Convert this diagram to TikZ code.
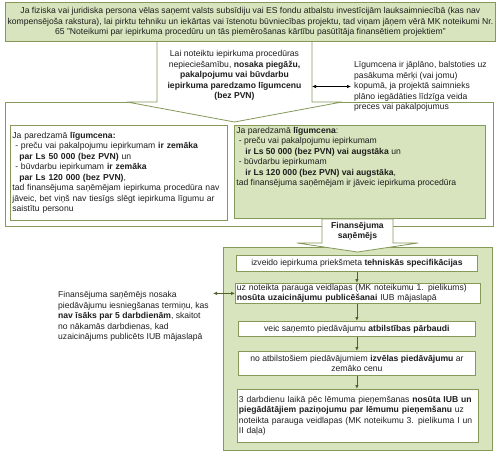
\documentclass[tikz,border=0pt]{standalone}
\usepackage{fontspec}
\setmainfont{Liberation Sans}
\usetikzlibrary{arrows.meta}
\definecolor{gfill}{HTML}{D7E4BD}
\definecolor{bd}{HTML}{86995A}
\definecolor{ar}{HTML}{4F6228}
\definecolor{txt}{HTML}{1E1E1E}
\tikzset{
  base/.style={font=\fontsize{8.6bp}{10.5bp}\selectfont, text=txt, inner sep=0pt},
  gbox/.style={base, draw=bd, fill=gfill, line width=0.8bp},
  wbox/.style={base, draw=bd, fill=white, line width=0.8bp},
  shp/.style={draw=bd, line width=0.8bp},
  darr/.style={{Latex[length=4bp,width=3.5bp]}-{Latex[length=4bp,width=3.5bp]}, line width=0.7bp},
  arr/.style={-{Latex[length=4bp,width=3.5bp]}, draw=ar, line width=0.8bp},
}
\begin{document}
\begin{tikzpicture}[x=1bp,y=-1bp]
\useasboundingbox (0,0) rectangle (500,454);
% upper frame
\draw[shp] (5,102) rectangle (493,226);
% top callout
\draw[shp, fill=white] (157,41) -- (157,102) -- (127,102) -- (234.5,122) -- (342,102) -- (312,102) -- (312,41);
% top box
\node[gbox, anchor=north west, minimum width=490bp, minimum height=39bp, align=center] (top) at (5,2)
 {Ja fiziska vai juridiska persona vēlas saņemt valsts subsīdiju vai ES fondu atbalstu investīcijām lauksaimniecībā (kas nav\\
  kompensējoša rakstura), lai pirktu tehniku un iekārtas vai īstenotu būvniecības projektu, tad viņam jāņem vērā MK noteikumi Nr.\\
  65 "Noteikumi par iepirkuma procedūru un tās piemērošanas kārtību pasūtītāja finansētiem projektiem"};
\node[base, align=center] (c) at (234.5,75.5)
 {Lai noteiktu iepirkuma procedūras\\
  nepieciešamību, \textbf{nosaka piegāžu,}\\
  \textbf{pakalpojumu vai būvdarbu}\\
  \textbf{iepirkuma paredzamo līgumcenu}\\
  \textbf{(bez PVN)}};
\node[base, anchor=west, align=left] (r) at (354,86.5)
 {Līgumcena ir jāplāno, balstoties uz\\
  pasākuma mērķi (vai jomu)\\
  kopumā, ja projektā saimnieks\\
  plāno iegādāties līdzīga veida\\
  preces vai pakalpojumus};
\draw[darr] (312,0 |- r.west) -- ([xshift=-3bp]r.west);
% left white box
\node[wbox, anchor=north west, minimum height=95bp, text width=213bp, inner xsep=2bp, align=left] (L) at (10,125)
 {Ja paredzamā \textbf{līgumcena:}\\
  \ - preču vai pakalpojumu iepirkumam \textbf{ir zemāka}\\
  \hspace*{7bp}\textbf{par Ls 50 000 (bez PVN)} un\\
  \ - būvdarbu iepirkumam \textbf{ir zemāka}\\
  \hspace*{7bp}\textbf{par Ls 120 000 (bez PVN)},\\
  tad finansējuma saņēmējam iepirkuma procedūra nav\\
  jāveic, bet viņš nav tiesīgs slēgt iepirkuma līgumu ar\\
  saistītu personu};
% right green box
\node[gbox, anchor=north west, inner xsep=2bp, inner ysep=1.5bp] (G) at (234,125)
 {\parbox[t][90bp][t]{247bp}{\raggedright
  Ja paredzamā \textbf{līgumcena}:\\
  \ - preču vai pakalpojumu iepirkumam\\
  \hspace*{9bp}\textbf{ir Ls 50 000 (bez PVN) vai augstāka} un\\
  \ - būvdarbu iepirkumam\\
  \hspace*{9bp}\textbf{ir Ls 120 000 (bez PVN) vai augstāka},\\
  tad finansējuma saņēmējam ir jāveic iepirkuma procedūra}};
% bottom frame
\draw[shp, fill=gfill] (223,247) rectangle (492,450);
% second callout
\draw[shp, fill=white] (322,219) -- (322,243) -- (297,243) -- (357.5,252) -- (418,243) -- (393,243) -- (393,219) -- cycle;
\node[base, align=center] (f) at (357.5,231.5) {\textbf{Finansējuma}\\\textbf{saņēmējs}};
% inner boxes
\node[wbox, anchor=north west, minimum width=241bp, minimum height=16bp, align=center] (b1) at (236,255)
 {izveido iepirkuma priekšmeta \textbf{tehniskās specifikācijas}};
\node[wbox, anchor=north west, minimum height=20bp, text width=242bp, inner xsep=1.5bp, align=left] (b2) at (235,283)
 {uz noteikta parauga veidlapas (MK noteikumu 1. pielikums)\\
  \textbf{nosūta uzaicinājumu publicēšanai} IUB mājaslapā};
\node[wbox, anchor=north west, minimum width=237bp, minimum height=15bp, align=center] (b3) at (238,321)
 {veic saņemto piedāvājumu \textbf{atbilstības pārbaudi}};
\node[wbox, anchor=north west, minimum width=237bp, minimum height=24bp, align=center] (b4) at (238,351)
 {no atbilstošiem piedāvājumiem \textbf{izvēlas piedāvājumu} ar\\
  zemāko cenu};
\node[wbox, anchor=north west, minimum height=53bp, text width=238bp, inner xsep=1.5bp, align=left] (b5) at (237,389)
 {3 darbdienu laikā pēc lēmuma pieņemšanas \textbf{nosūta IUB un}\\
  \textbf{piegādātājiem paziņojumu par lēmumu pieņemšanu} uz\\
  noteikta parauga veidlapas (MK noteikumu 3. pielikuma I un\\
  II daļa)};
\draw[arr] (b1.south) -- (b1.south |- b2.north);
\draw[arr] (b1.south |- b2.south) -- (b1.south |- b3.north);
\draw[arr] (b1.south |- b3.south) -- (b1.south |- b4.north);
\draw[arr] (b1.south |- b4.south) -- (b1.south |- b5.north);
% left annotation
\node[base, anchor=west, align=left] (A) at (58,316.5)
 {Finansējuma saņēmējs nosaka\\
  piedāvājumu iesniegšanas termiņu, kas\\
  \textbf{nav īsāks par 5 darbdienām}, skaitot\\
  no nākamās darbdienas, kad\\
  uzaicinājums publicēts IUB mājaslapā};
\draw[darr, draw=ar, fill=ar] (213,0 |- b2.west) -- (b2.west);
\end{tikzpicture}
\end{document}
